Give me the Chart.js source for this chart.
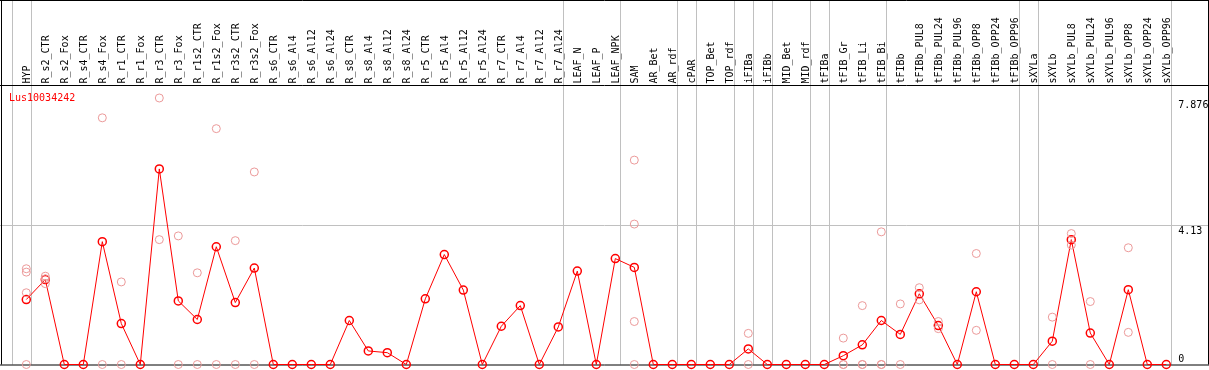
<!DOCTYPE html>
<html>
<head>
<meta charset="utf-8">
<script src="https://cdn.jsdelivr.net/npm/chart.js@4.4.1/dist/chart.umd.min.js"></script>
<style>
  html, body { margin: 0; padding: 0; background: #fff; }
  canvas { display: block; }
</style>
</head>
<body>
<canvas id="c" width="1209" height="370"></canvas>
<script>
const title = "Lus10034242";
const categories = ["HYP","R_s2_CTR","R_s2_Fox","R_s4_CTR","R_s4_Fox","R_r1_CTR","R_r1_Fox","R_r3_CTR","R_r3_Fox","R_r1s2_CTR","R_r1s2_Fox","R_r3s2_CTR","R_r3s2_Fox","R_s6_CTR","R_s6_Al4","R_s6_Al12","R_s6_Al24","R_s8_CTR","R_s8_Al4","R_s8_Al12","R_s8_Al24","R_r5_CTR","R_r5_Al4","R_r5_Al12","R_r5_Al24","R_r7_CTR","R_r7_Al4","R_r7_Al12","R_r7_Al24","LEAF_N","LEAF_P","LEAF_NPK","SAM","AR_Bet","AR_rdf","cPAR","TOP_Bet","TOP_rdf","iFIBa","iFIBb","MID_Bet","MID_rdf","tFIBa","tFIB_Gr","tFIB_Li","tFIB_Bi","tFIBb","tFIBb_PUL8","tFIBb_PUL24","tFIBb_PUL96","tFIBb_OPP8","tFIBb_OPP24","tFIBb_OPP96","sXYLa","sXYLb","sXYLb_PUL8","sXYLb_PUL24","sXYLb_PUL96","sXYLb_OPP8","sXYLb_OPP24","sXYLb_OPP96"];
const means = [1.92,2.51,0,0,3.63,1.21,0,5.78,1.88,1.33,3.48,1.83,2.85,0,0,0,0,1.30,0.40,0.35,0,1.94,3.25,2.20,0,1.13,1.74,0,1.11,2.76,0,3.13,2.87,0,0,0,0,0,0.46,0,0,0,0,0.26,0.58,1.30,0.89,2.09,1.15,0,2.15,0,0,0,0.69,3.69,0.93,0,2.21,0,0];
const replicates = [[2.83,2.73,2.12,0],[2.61,2.53,2.39],[],[],[7.29,0],[2.44,0],[],[7.876,3.69],[3.80,0],[2.71,0],[6.97,0],[3.66,0],[5.69,0],[],[],[],[],[],[],[],[],[],[],[],[],[],[],[],[],[],[],[],[6.04,4.15,1.27,0],[],[],[],[],[],[0.92,0],[],[],[],[],[0.78,0,0],[1.74,0,0],[3.92,0,0],[1.79,0],[2.27,1.91],[1.27,1.06],[],[3.28,1.01],[],[],[],[1.40,0],[3.87,3.53],[1.86,0],[],[3.45,0.95],[],[]];
const groupEnds = [-1,0,28,31,34,35,37,38,39,41,42,45,52,53,60];
const yMax = 8.26;
const yTickValues = [7.876, 4.13, 0];
const yTickLabels = ["7.876", "4.13", "0"];
const yGridValues = [4.13];

const repPoints = [];
replicates.forEach((r, i) => r.forEach(v => repPoints.push({x: categories[i], y: v})));

const FONT = '10px "DejaVu Sans Mono", "Liberation Mono", monospace';

const decor = {
  id: 'decor',
  beforeDatasetsDraw(chart) {
    const ctx = chart.ctx, xs = chart.scales.x, ys = chart.scales.y, a = chart.chartArea;
    const W = chart.width, H = chart.height;
    const step = xs.getPixelForValue(1) - xs.getPixelForValue(0);
    ctx.save();
    ctx.fillStyle = '#fff';
    ctx.fillRect(0, 0, W, H);
    ctx.strokeStyle = '#c0c0c0';
    ctx.lineWidth = 1;
    groupEnds.forEach(i => {
      const x = Math.round(xs.getPixelForValue(0) + (i + 0.23) * step) + 0.5;
      ctx.beginPath(); ctx.moveTo(x, 0); ctx.lineTo(x, a.bottom); ctx.stroke();
    });
    yGridValues.forEach(v => {
      const y = Math.round(ys.getPixelForValue(v)) + 0.5;
      ctx.beginPath(); ctx.moveTo(0, y); ctx.lineTo(W, y); ctx.stroke();
    });
    ctx.strokeStyle = '#000';
    ctx.beginPath();
    ctx.moveTo(0, 0.5); ctx.lineTo(W, 0.5);
    ctx.moveTo(0, a.top + 0.5); ctx.lineTo(W, a.top + 0.5);
    ctx.moveTo(0, a.bottom + 0.5); ctx.lineTo(W, a.bottom + 0.5);
    ctx.moveTo(1.5, 0); ctx.lineTo(1.5, a.bottom);
    ctx.moveTo(W - 0.5, 0); ctx.lineTo(W - 0.5, a.bottom);
    ctx.stroke();
    ctx.font = FONT;
    ctx.fillStyle = '#000';
    ctx.textAlign = 'left';
    ctx.textBaseline = 'alphabetic';
    categories.forEach((c, i) => {
      const x = xs.getPixelForValue(i) + 3.5;
      ctx.save();
      ctx.translate(x, a.top - 1.5);
      ctx.rotate(-Math.PI / 2);
      ctx.fillText(c, 0, 0);
      ctx.restore();
    });
    ctx.fillStyle = '#ff0000';
    ctx.fillText(title, 9, a.top + 16);
    ctx.fillStyle = '#000';
    yTickValues.forEach((v, k) => {
      const y = ys.getPixelForValue(v);
      const x = a.right + 2.5;
      if (v === 0) {
        ctx.textBaseline = 'alphabetic';
        ctx.fillText(yTickLabels[k], x, y - 3);
      } else {
        ctx.textBaseline = 'top';
        ctx.fillText(yTickLabels[k], x, y + 2);
      }
    });
    ctx.restore();
  }
};

new Chart(document.getElementById('c'), {
  type: 'line',
  data: {
    labels: categories,
    datasets: [
      {
        data: repPoints,
        showLine: false,
        pointRadius: 4,
        pointBorderWidth: 1,
        pointBorderColor: '#ec9a9a',
        pointBackgroundColor: 'rgba(0,0,0,0)',
        clip: false
      },
      {
        data: means,
        borderColor: '#ff0000',
        borderWidth: 1,
        tension: 0,
        pointRadius: 4,
        pointBorderWidth: 1.5,
        pointBorderColor: '#ff0000',
        pointBackgroundColor: 'rgba(0,0,0,0)',
        clip: false
      }
    ]
  },
  options: {
    responsive: false,
    animation: false,
    devicePixelRatio: 1,
    layout: { padding: { left: 16.8, right: 33.2, top: 85, bottom: 1 } },
    plugins: { legend: { display: false }, tooltip: { enabled: false } },
    scales: {
      x: { type: 'category', offset: true, display: false },
      y: { min: 0, max: yMax, display: false }
    }
  },
  plugins: [decor]
});
</script>
</body>
</html>
